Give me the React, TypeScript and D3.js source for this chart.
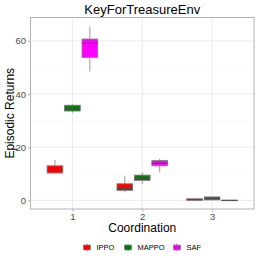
import * as d3 from 'd3'
import { useRef, useEffect } from 'react'

const coordination = ['1', '2', '3']
const algorithms = ['IPPO', 'MAPPO', 'SAF']
const colors = ['#FF0000', '#008000', '#FF00FF']

// per algorithm, per coordination level: [min, q1, median, q3, max]
const ippoStats = [
  [10.0, 10.3, 11.6, 13.0, 15.2],
  [3.0, 3.75, 4.4, 6.25, 9.3],
  [0.0, 0.0, 0.3, 0.6, 0.6],
]
const mappoStats = [
  [33.0, 33.6, 34.7, 35.8, 36.2],
  [6.2, 7.5, 8.3, 9.5, 10.5],
  [0.1, 0.15, 0.7, 1.3, 1.3],
]
const safStats = [
  [48.5, 53.8, 59.1, 60.7, 65.3],
  [10.5, 13.0, 14.0, 15.0, 15.6],
  [0.0, 0.0, 0.0, 0.05, 0.05],
]
const yTicks = [0, 20, 40, 60]
const yMinor = [10, 30, 50]

export default function App() {
  const svgRef = useRef<SVGSVGElement>(null)
  useEffect(() => {
    const width = 258, height = 258
    const margin = { top: 17.5, right: 4, bottom: 49, left: 30.5 }
    const innerW = width - margin.left - margin.right
    const innerH = height - margin.top - margin.bottom
    const font = 'Liberation Sans, Arial, sans-serif'

    const svg = d3.select(svgRef.current)
    svg.selectAll('*').remove()
    svg.attr('width', width).attr('height', height)
      .style('position', 'absolute').style('left', 0).style('top', 0)
      .style('background', '#fff')

    const g = svg.append('g').attr('transform', `translate(${margin.left},${margin.top})`)

    const x = d3.scaleLinear().domain([0.4, 3.6]).range([0, innerW])
    const y = d3.scaleLinear().domain([-3.25, 68.8]).range([innerH, 0])

    // grid
    g.selectAll('.minor').data(yMinor).join('line')
      .attr('x1', 0).attr('x2', innerW)
      .attr('y1', d => y(d)).attr('y2', d => y(d))
      .attr('stroke', '#f2f2f2').attr('stroke-width', 0.5)
    g.selectAll('.major').data(yTicks).join('line')
      .attr('x1', 0).attr('x2', innerW)
      .attr('y1', d => y(d)).attr('y2', d => y(d))
      .attr('stroke', '#e6e6e6').attr('stroke-width', 0.8)
    g.selectAll('.xmajor').data(coordination).join('line')
      .attr('x1', (_, i) => x(i + 1)).attr('x2', (_, i) => x(i + 1))
      .attr('y1', 0).attr('y2', innerH)
      .attr('stroke', '#e6e6e6').attr('stroke-width', 0.8)

    // boxes
    const stats = [ippoStats, mappoStats, safStats]
    const slot = 0.25
    const boxW = x(0.225) - x(0)
    algorithms.forEach((alg, a) => {
      stats[a].forEach((s, i) => {
        const cx = x(i + 1 + (a - 1) * slot)
        const [mn, q1, md, q3, mx] = s
        g.append('line').attr('x1', cx).attr('x2', cx)
          .attr('y1', y(mx)).attr('y2', y(mn))
          .attr('stroke', '#7f7f7f').attr('stroke-width', 0.8)
        g.append('rect')
          .attr('x', cx - boxW / 2).attr('width', boxW)
          .attr('y', y(q3)).attr('height', Math.max(y(q1) - y(q3), 0.5))
          .attr('fill', colors[a]).attr('stroke', '#7f7f7f').attr('stroke-width', 0.8)
        g.append('line').attr('x1', cx - boxW / 2).attr('x2', cx + boxW / 2)
          .attr('y1', y(md)).attr('y2', y(md))
          .attr('stroke', '#4d4d4d').attr('stroke-width', 1.1)
      })
    })

    // panel border
    g.append('rect').attr('width', innerW).attr('height', innerH)
      .attr('fill', 'none').attr('stroke', '#b3b3b3').attr('stroke-width', 1)

    // axes
    const yAxis = g.append('g').call(d3.axisLeft(y).tickValues(yTicks).tickSize(2.5).tickPadding(2))
    const xAxis = g.append('g').attr('transform', `translate(0,${innerH})`)
      .call(d3.axisBottom(x).tickValues([1, 2, 3]).tickFormat((d: any) => coordination[d - 1]).tickSize(2.5).tickPadding(2))
    ;[yAxis, xAxis].forEach(ax => {
      ax.select('.domain').remove()
      ax.selectAll('line').attr('stroke', '#b3b3b3')
      ax.selectAll('text').attr('fill', '#4d4d4d').style('font-size', '9.5px').style('font-family', font)
    })

    // titles
    svg.append('text').text('KeyForTreasureEnv')
      .attr('x', margin.left + innerW / 2).attr('y', 13.5)
      .attr('text-anchor', 'middle').style('font-size', '13px').style('font-family', font)
    svg.append('text').text('Coordination')
      .attr('x', margin.left + innerW / 2).attr('y', 232)
      .attr('text-anchor', 'middle').style('font-size', '12px').style('font-family', font)
    svg.append('text').text('Episodic Returns')
      .attr('transform', `translate(13.5,${margin.top + innerH / 2}) rotate(-90)`)
      .attr('text-anchor', 'middle').style('font-size', '12px').style('font-family', font)

    // legend
    const legX = [87, 128, 177]
    const legY = 247.5
    algorithms.forEach((alg, a) => {
      const lg = svg.append('g').attr('transform', `translate(${legX[a]},${legY})`)
      lg.append('line').attr('x1', 0).attr('x2', 0).attr('y1', -4).attr('y2', 4)
        .attr('stroke', '#7f7f7f').attr('stroke-width', 0.8)
      lg.append('rect').attr('x', -3.5).attr('y', -2.5).attr('width', 7).attr('height', 5)
        .attr('fill', colors[a]).attr('stroke', '#7f7f7f').attr('stroke-width', 0.6)
      lg.append('line').attr('x1', -3.5).attr('x2', 3.5).attr('y1', 0).attr('y2', 0)
        .attr('stroke', '#4d4d4d').attr('stroke-width', 0.8)
      lg.append('text').text(alg).attr('x', 9.5).attr('y', 2.6)
        .style('font-size', '7.5px').style('font-family', font)
    })
  }, [])
  return <svg ref={svgRef}></svg>
}
